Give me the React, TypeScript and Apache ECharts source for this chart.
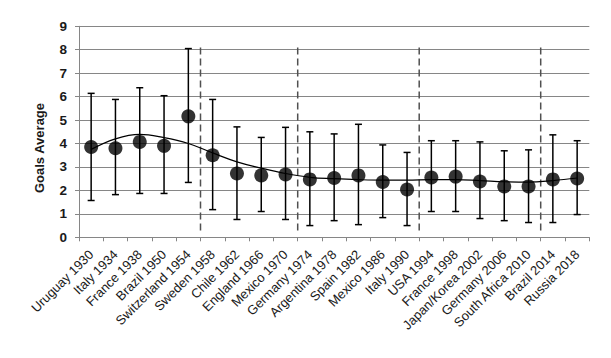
import React, { useEffect, useRef } from "react";
import * as echarts from "echarts";

const categories = [
  "Uruguay 1930", "Italy 1934", "France 1938", "Brazil 1950", "Switzerland 1954",
  "Sweden 1958", "Chile 1962", "England 1966", "Mexico 1970", "Germany 1974",
  "Argentina 1978", "Spain 1982", "Mexico 1986", "Italy 1990", "USA 1994",
  "France 1998", "Japan/Korea 2002", "Germany 2006", "South Africa 2010", "Brazil 2014", "Russia 2018",
];
const goalsAverage = [3.85, 3.8, 4.07, 3.9, 5.16, 3.5, 2.72, 2.64, 2.68, 2.47, 2.53, 2.64, 2.36, 2.04, 2.55, 2.59, 2.38, 2.17, 2.17, 2.47, 2.51];
const errorHigh = [6.14, 5.88, 6.38, 6.04, 8.05, 5.88, 4.71, 4.26, 4.69, 4.5, 4.41, 4.82, 3.94, 3.62, 4.12, 4.12, 4.07, 3.69, 3.73, 4.37, 4.12];
const errorLow = [1.57, 1.82, 1.87, 1.87, 2.34, 1.18, 0.76, 1.1, 0.76, 0.5, 0.71, 0.54, 0.84, 0.5, 1.1, 1.1, 0.8, 0.71, 0.63, 0.63, 0.97];
const trend = [3.75, 4.2, 4.39, 4.25, 4.0, 3.6, 3.22, 2.95, 2.72, 2.56, 2.5, 2.46, 2.44, 2.44, 2.46, 2.46, 2.42, 2.37, 2.35, 2.42, 2.53];
// era dividers: placed after these category indices
const dividersAfter = [4, 8, 13, 18];
const dividerRange = [0.28, 8.1];
const yTicks = [0, 1, 2, 3, 4, 5, 6, 7, 8, 9];

export default function App() {
  const ref = useRef<HTMLDivElement>(null);
  useEffect(() => {
    document.body.style.margin = "0";
    const chart = echarts.init(ref.current!, null, { renderer: "svg" });
    const font = "Arial, 'Liberation Sans', sans-serif";
    chart.setOption({
      animation: false,
      backgroundColor: "#ffffff",
      grid: { left: 79, right: 21.7, top: 26.3, bottom: 120.7 },
      xAxis: {
        type: "category",
        data: categories,
        boundaryGap: true,
        axisLine: { lineStyle: { color: "#868686", width: 1 } },
        axisTick: { show: true, length: 4, lineStyle: { color: "#868686" } },
        axisLabel: {
          rotate: 45,
          interval: 0,
          margin: 15,
          fontSize: 13,
          color: "#1a1a1a",
          fontFamily: font,
        },
        splitLine: { show: false },
      },
      yAxis: {
        type: "value",
        min: yTicks[0],
        max: yTicks[yTicks.length - 1],
        interval: 1,
        axisLine: { show: true, lineStyle: { color: "#868686", width: 1 } },
        axisTick: { show: true, length: 4, lineStyle: { color: "#868686" } },
        axisLabel: {
          fontSize: 13.5,
          fontWeight: "bold",
          color: "#1a1a1a",
          margin: 12,
          fontFamily: font,
        },
        splitLine: { lineStyle: { color: "#868686", width: 1 } },
      },
      graphic: [
        {
          type: "text",
          x: 39,
          y: 148,
          rotation: Math.PI / 2,
          style: {
            text: "Goals Average",
            fontSize: 13,
            fontWeight: "bold",
            fill: "#1a1a1a",
            fontFamily: font,
            align: "center",
            verticalAlign: "middle",
          },
        },
      ],
      series: [
        {
          type: "custom",
          name: "dividers",
          data: dividersAfter.map((d) => [d]),
          renderItem: (params: any, api: any) => {
            const idx = api.value(0);
            const half = api.size([1, 0])[0] / 2;
            const top = api.coord([idx, dividerRange[1]]);
            const bot = api.coord([idx, dividerRange[0]]);
            const x = top[0] + half;
            return {
              type: "line",
              shape: { x1: x, y1: top[1], x2: x, y2: bot[1] },
              style: { stroke: "#505050", lineWidth: 1.5, lineDash: [7, 4] },
            };
          },
          z: 1,
        },
        {
          type: "line",
          name: "trend",
          data: trend,
          smooth: 0.4,
          showSymbol: false,
          symbol: "none",
          lineStyle: { color: "#000000", width: 1.2 },
          z: 2,
        },
        {
          type: "custom",
          name: "error",
          data: categories.map((_, i) => [i, errorLow[i], errorHigh[i]]),
          renderItem: (params: any, api: any) => {
            const i = api.value(0);
            const lo = api.coord([i, api.value(1)]);
            const hi = api.coord([i, api.value(2)]);
            const cap = 3.5;
            const style = { stroke: "#000000", lineWidth: 1.5 };
            return {
              type: "group",
              children: [
                { type: "line", shape: { x1: lo[0], y1: lo[1], x2: hi[0], y2: hi[1] }, style },
                { type: "line", shape: { x1: hi[0] - cap, y1: hi[1], x2: hi[0] + cap, y2: hi[1] }, style },
                { type: "line", shape: { x1: lo[0] - cap, y1: lo[1], x2: lo[0] + cap, y2: lo[1] }, style },
              ],
            };
          },
          z: 3,
        },
        {
          type: "scatter",
          name: "Goals Average",
          data: goalsAverage,
          symbol: "circle",
          symbolSize: 14,
          itemStyle: { color: "#000000" },
          z: 4,
        },
      ],
    });
    return () => chart.dispose();
  }, []);
  return <div ref={ref} style={{ width: 611, height: 358 }} />;
}
